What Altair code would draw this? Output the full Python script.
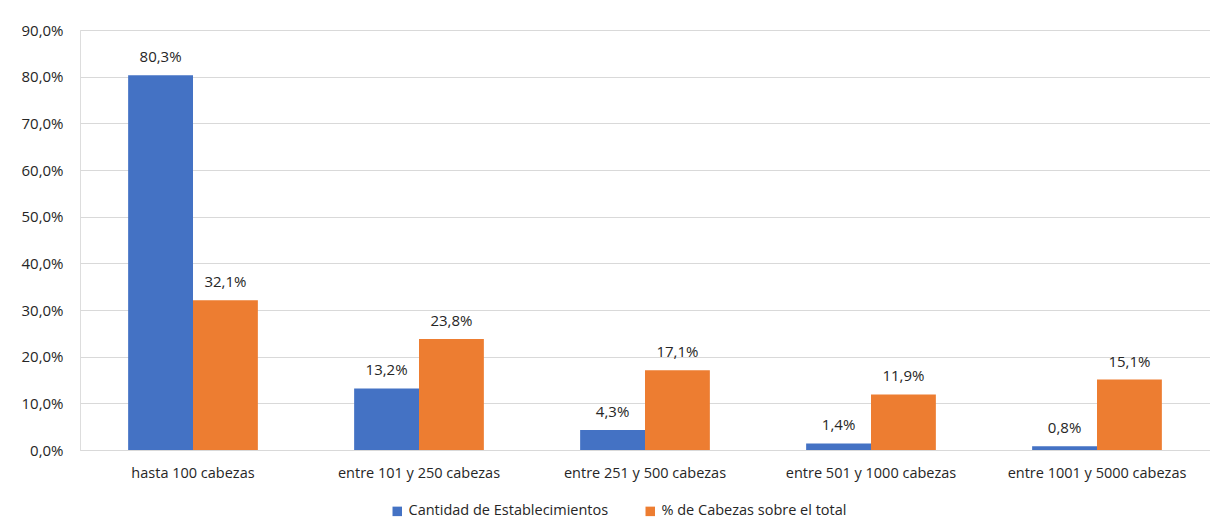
import altair as alt
import pandas as pd

categories = ["hasta 100 cabezas", "entre 101 y 250 cabezas", "entre 251 y 500 cabezas",
              "entre 501 y 1000 cabezas", "entre 1001 y 5000 cabezas"]
series_names = ["Cantidad de Establecimientos", "% de Cabezas sobre el total"]
establecimientos = [80.3, 13.2, 4.3, 1.4, 0.8]
cabezas = [32.1, 23.8, 17.1, 11.9, 15.1]
colors = ["#4472C4", "#ED7D31"]
y_ticks = [0, 10, 20, 30, 40, 50, 60, 70, 80, 90]

rows = []
for c, a, b in zip(categories, establecimientos, cabezas):
    rows.append({"cat": c, "serie": series_names[0], "val": a})
    rows.append({"cat": c, "serie": series_names[1], "val": b})
df = pd.DataFrame(rows)

FONT = "Open Sans"
TXT = "#262626"

x = alt.X("cat:N", sort=categories, title=None,
          scale=alt.Scale(paddingInner=0.426, paddingOuter=0.213),
          axis=alt.Axis(labelAngle=0, ticks=False, domain=True, domainColor="#d9d9d9",
                        labelPadding=16, labelFontSize=14.5, labelColor=TXT, labelFont=FONT))
xoff = alt.XOffset("serie:N", sort=series_names)
y = alt.Y("val:Q", title=None,
          scale=alt.Scale(domain=[0, 90], nice=False),
          axis=alt.Axis(values=y_ticks, ticks=False, domain=False, gridColor="#d9d9d9",
                        labelExpr="replace(format(datum.value, '.1f'), '.', ',') + '%'",
                        labelPadding=17, labelFontSize=15, labelColor=TXT, labelFont=FONT))
color = alt.Color("serie:N", sort=series_names,
                  scale=alt.Scale(domain=series_names, range=colors),
                  legend=alt.Legend(title=None, orient="none", direction="horizontal",
                                    legendX=310, legendY=474,
                                    symbolType="square", symbolSize=90, symbolStrokeWidth=0,
                                    labelFontSize=14.5, labelColor=TXT, labelFont=FONT,
                                    labelLimit=500, columnPadding=34))

bars = alt.Chart(df).mark_bar().encode(x=x, xOffset=xoff, y=y, color=color)
labels = alt.Chart(df).mark_text(baseline="bottom", dy=-10, fontSize=15, font=FONT, color=TXT).encode(
    x=x, xOffset=xoff, y=y,
    text=alt.Text("label:N"),
).transform_calculate(label="replace(format(datum.val, '.1f'), '.', ',') + '%'")

chart = (bars + labels).properties(
    width=1130, height=420,
    autosize=alt.AutoSizeParams(type="none"),
    padding={"left": 72, "top": 22, "right": 0, "bottom": 72},
).configure_view(stroke=None).configure(background="white")

chart.save("out.html", embed_options={"renderer": "svg", "actions": False})
